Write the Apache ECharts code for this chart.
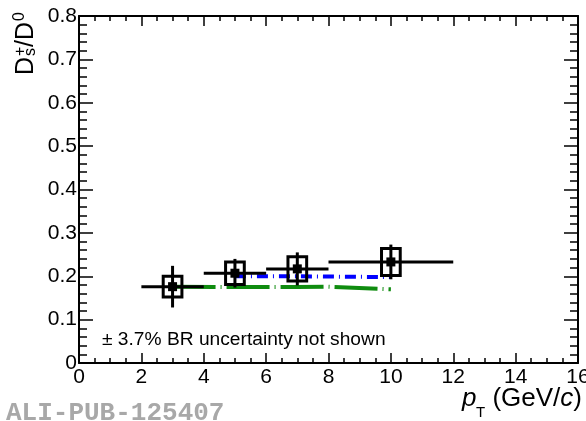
<!DOCTYPE html>
<html><head><meta charset="utf-8">
<script src="https://cdn.jsdelivr.net/npm/echarts@6/dist/echarts.min.js"></script>
<style>html,body{margin:0;padding:0;background:#fff}#c{width:586px;height:421px}</style>
</head><body><div id="c"></div>
<script>
// Data
const ptCenters = [3, 5, 7, 10];
const ptLow = [2, 4, 6, 8];
const ptHigh = [4, 6, 8, 12];
const ratio = [0.176, 0.207, 0.217, 0.233];
const statErr = [0.048, 0.033, 0.038, 0.040];
const systErr = [0.024, 0.026, 0.028, 0.031];
const blueX = [5, 7, 10];
const blueY = [0.200, 0.200, 0.198];
const greenX = [3, 5, 7, 8, 10];
const greenY = [0.176, 0.175, 0.175, 0.176, 0.170];

const FONT = 'Liberation Sans';
const chart = echarts.init(document.getElementById('c'), null, {renderer: 'canvas'});

function renderItem(params, api) {
  const x = api.value(0), y = api.value(1), xl = api.value(2), xh = api.value(3), se = api.value(4), sy = api.value(5);
  const c = api.coord([x, y]);
  const pl = api.coord([xl, y]), ph = api.coord([xh, y]);
  const st = api.coord([x, y + se]), sb = api.coord([x, y - se]);
  const bt = api.coord([x, y + sy]), bb = api.coord([x, y - sy]);
  const hw = api.size([0.3, 0])[0];
  const ls = {stroke: '#000', lineWidth: 3};
  return {type: 'group', children: [
    {type: 'line', shape: {x1: pl[0], y1: c[1], x2: ph[0], y2: c[1]}, style: ls},
    {type: 'line', shape: {x1: c[0], y1: st[1], x2: c[0], y2: sb[1]}, style: ls},
    {type: 'rect', shape: {x: c[0] - hw, y: bt[1], width: 2 * hw, height: bb[1] - bt[1]}, style: {fill: 'none', stroke: '#000', lineWidth: 3}},
    {type: 'rect', shape: {x: c[0] - 4.5, y: c[1] - 4.5, width: 9, height: 9}, style: {fill: '#000'}}
  ]};
}

const axisCommonX = {
  type: 'value', min: 0, max: 16, interval: 2,
  axisLine: {show: true, onZero: false, lineStyle: {color: '#000', width: 2}},
  axisTick: {show: true, inside: true, length: 10, lineStyle: {color: '#000', width: 1.5}},
  minorTick: {show: true, splitNumber: 4, length: 5, lineStyle: {color: '#000', width: 1.5}},
  splitLine: {show: false}, minorSplitLine: {show: false}
};
const axisCommonY = {
  type: 'value', min: 0, max: 0.8, interval: 0.1,
  axisLine: {show: true, onZero: false, lineStyle: {color: '#000', width: 2}},
  axisTick: {show: true, inside: true, length: 14, lineStyle: {color: '#000', width: 1.5}},
  minorTick: {show: true, splitNumber: 5, length: 8, lineStyle: {color: '#000', width: 1.5}},
  splitLine: {show: false}, minorSplitLine: {show: false}
};

const F = 25, FX = 26, FS = 16, FT = 15;
const option = {
  animation: false,
  backgroundColor: '#fff',
  grid: {left: 79, right: 8, top: 16, bottom: 58, containLabel: false, outerBoundsMode: 'none'},
  xAxis: [
    Object.assign({}, axisCommonX, {position: 'bottom', axisLabel: {show: true, fontSize: 21, color: '#000', fontFamily: FONT, margin: 4, hideOverlap: false}}),
    Object.assign({}, axisCommonX, {position: 'top', axisLabel: {show: false}})
  ],
  yAxis: [
    Object.assign({}, axisCommonY, {position: 'left', axisLabel: {show: true, fontSize: 21, color: '#000', fontFamily: FONT, margin: 2,
      formatter: v => v === 0 ? '0' : v.toFixed(1)}}),
    Object.assign({}, axisCommonY, {position: 'right', axisLabel: {show: false}})
  ],
  series: [
    {type: 'line', z: 2, showSymbol: false, symbol: 'none',
     data: greenX.map((x, i) => [x, greenY[i]]),
     lineStyle: {color: '#0f8c0f', width: 4, type: [43, 5, 1, 5]}},
    {type: 'line', z: 2, showSymbol: false, symbol: 'none',
     data: blueX.map((x, i) => [x, blueY[i]]),
     lineStyle: {color: '#0000ff', width: 4, type: [11, 5, 1, 5]}},
    {type: 'custom', z: 5, renderItem: renderItem,
     encode: {x: 0, y: 1},
     data: ptCenters.map((x, i) => [x, ratio[i], ptLow[i], ptHigh[i], statErr[i], systErr[i]])}
  ],
  graphic: [
    {type: 'text', z: 10, style: {x: 102, y: 340, text: '± 3.7% BR uncertainty not shown', fontSize: 19.2, fontFamily: FONT, fill: '#000', verticalAlign: 'middle'}},
    {type: 'text', z: 10, style: {x: 6, y: 413, text: 'ALI-PUB-125407', fontSize: 26, fontWeight: 'bold', fontFamily: 'Liberation Mono', fill: '#a8a8a8', verticalAlign: 'middle'}},
    // x title
    {type: 'group', z: 10, children: [
      {type: 'text', style: {x: 462, y: 407 - 0.31 * FX, text: 'p', fontSize: FX, fontStyle: 'italic', fontFamily: FONT, fill: '#000', verticalAlign: 'middle'}},
      {type: 'text', style: {x: 476, y: 418 - 0.31 * FT, text: 'T', fontSize: FT, fontFamily: FONT, fill: '#000', verticalAlign: 'middle'}},
      {type: 'text', style: {x: 582, y: 407 - 0.31 * FX, text: '(GeV/{i|c})', fontSize: FX, fontFamily: FONT, fill: '#000', align: 'right', verticalAlign: 'middle',
        rich: {i: {fontStyle: 'italic', fontSize: FX, fontFamily: FONT, fill: '#000'}}}}
    ]},
    // y title, rotated
    {type: 'group', z: 10, x: 34, y: 75, rotation: Math.PI / 2, children: [
      {type: 'text', style: {x: 0, y: -0.31 * F, text: 'D', fontSize: F, fontFamily: FONT, fill: '#000', verticalAlign: 'middle'}},
      {type: 'text', style: {x: 19, y: 2 - 0.31 * FS, text: 's', fontSize: FS, fontFamily: FONT, fill: '#000', verticalAlign: 'middle'}},
      {type: 'text', style: {x: 19, y: -13, text: '+', fontSize: FS, fontFamily: FONT, fill: '#000', verticalAlign: 'middle'}},
      {type: 'text', style: {x: 28, y: -0.31 * F, text: '/D', fontSize: F, fontFamily: FONT, fill: '#000', verticalAlign: 'middle'}},
      {type: 'text', style: {x: 54, y: -14, text: '0', fontSize: FS, fontFamily: FONT, fill: '#000', verticalAlign: 'middle'}}
    ]}
  ]
};
chart.setOption(option);
</script></body></html>
